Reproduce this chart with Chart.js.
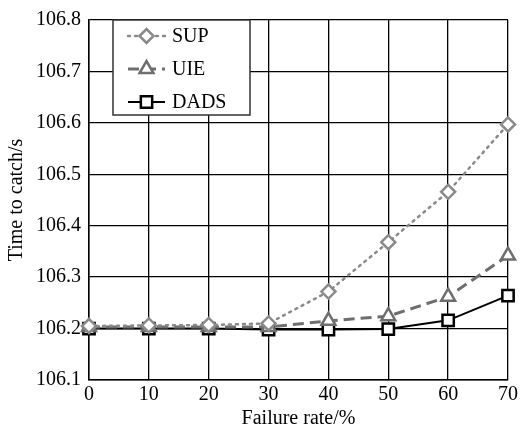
<!DOCTYPE html>
<html>
<head>
<meta charset="utf-8">
<script src="https://cdn.jsdelivr.net/npm/chart.js@4.4.0/dist/chart.umd.min.js"></script>
<style>
    html, body { margin: 0; padding: 0; background: #fff; }
</style>
</head>
<body>
<canvas id="catchChart" width="521" height="431"></canvas>
<script>
var failureRate = [0, 10, 20, 30, 40, 50, 60, 70];
var supTime = [106.205, 106.206, 106.207, 106.210, 106.272, 106.368, 106.466, 106.597];
var uieTime = [106.203, 106.203, 106.203, 106.203, 106.215, 106.224, 106.262, 106.342];
var dadsTime = [106.200, 106.200, 106.200, 106.198, 106.198, 106.199, 106.216, 106.264];
var yTicks = [106.1, 106.2, 106.3, 106.4, 106.5, 106.6, 106.7, 106.8];
var xTicks = [0, 10, 20, 30, 40, 50, 60, 70];

var serif = "'Liberation Serif', 'Times New Roman', serif";

function toPoints(values) {
    return failureRate.map(function (x, i) { return { x: x, y: values[i] }; });
}

// boxed legend in the upper left of the plot
var boxLegend = {
    id: 'boxLegend',
    afterDatasetsDraw: function (chart) {
        var ctx = chart.ctx;
        var left = 113, top = 20, w = 137, h = 95;
        ctx.save();
        ctx.fillStyle = '#fff';
        ctx.fillRect(left, top, w, h);
        ctx.strokeStyle = '#333';
        ctx.lineWidth = 1.5;
        ctx.strokeRect(left, top, w, h);

        chart.data.datasets.forEach(function (ds, i) {
            var y = 36 + i * 33;
            ctx.save();
            ctx.strokeStyle = ds.borderColor;
            ctx.lineWidth = ds.borderWidth;
            ctx.lineCap = ds.borderCapStyle || 'butt';
            ctx.setLineDash(ds.borderDash || []);
            ctx.beginPath();
            ctx.moveTo(128, y);
            ctx.lineTo(165, y);
            ctx.stroke();
            ctx.setLineDash([]);
            ctx.fillStyle = '#fff';
            ctx.strokeStyle = ds.pointBorderColor;
            ctx.lineWidth = ds.pointBorderWidth;
            Chart.helpers.drawPoint(ctx, {
                pointStyle: ds.pointStyle,
                radius: ds.pointRadius,
                borderWidth: ds.pointBorderWidth,
                rotation: 0
            }, 146.5, y);
            ctx.restore();

            ctx.fillStyle = '#000';
            ctx.font = '20px ' + serif;
            ctx.textBaseline = 'middle';
            ctx.textAlign = 'left';
            ctx.fillText(ds.label, 172, y + 1);
        });
        ctx.restore();
    }
};

var ctx = document.getElementById('catchChart');
var catchChart = new Chart(ctx, {
    type: 'line',
    data: {
        datasets: [{
            label: 'SUP',
            data: toPoints(supTime),
            borderColor: '#8a8a8a',
            borderWidth: 2.5,
            borderDash: [2, 5],
            borderCapStyle: 'round',
            pointStyle: 'rectRot',
            pointRadius: 7,
            pointBorderWidth: 2.5,
            pointBorderColor: '#8a8a8a',
            pointBackgroundColor: '#fff',
            clip: false
        }, {
            label: 'UIE',
            data: toPoints(uieTime),
            borderColor: '#6e6e6e',
            borderWidth: 3,
            borderDash: [11, 6],
            pointStyle: 'triangle',
            pointRadius: 8,
            pointBorderWidth: 2.5,
            pointBorderColor: '#6e6e6e',
            pointBackgroundColor: '#fff',
            clip: false
        }, {
            label: 'DADS',
            data: toPoints(dadsTime),
            borderColor: '#000',
            borderWidth: 2,
            pointStyle: 'rect',
            pointRadius: 8,
            pointBorderWidth: 2.5,
            pointBorderColor: '#000',
            pointBackgroundColor: '#fff',
            clip: false
        }]
    },
    options: {
        responsive: false,
        animation: false,
        layout: { padding: { top: 15, right: 10, left: 0, bottom: 0 } },
        plugins: {
            legend: { display: false },
            tooltip: { enabled: false }
        },
        scales: {
            x: {
                type: 'linear',
                min: 0,
                max: 70,
                afterBuildTicks: function (axis) {
                    axis.ticks = xTicks.map(function (v) { return { value: v }; });
                },
                afterFit: function (scale) { scale.height = 51; },
                grid: { color: '#000', lineWidth: 1.3, drawTicks: false },
                border: { color: '#000', width: 1.5 },
                ticks: {
                    color: '#000',
                    padding: 3,
                    maxRotation: 0,
                    font: { family: serif, size: 20 }
                },
                title: {
                    display: true,
                    text: 'Failure rate/%',
                    color: '#000',
                    padding: { top: 0, bottom: 0 },
                    font: { family: serif, size: 20 }
                }
            },
            y: {
                min: 106.1,
                max: 106.8,
                afterBuildTicks: function (axis) {
                    axis.ticks = yTicks.map(function (v) { return { value: v }; });
                },
                afterFit: function (scale) { scale.width = 89; },
                grid: { color: '#000', lineWidth: 1.3, drawTicks: false },
                border: { color: '#000', width: 1.5 },
                ticks: {
                    color: '#000',
                    padding: 8,
                    font: { family: serif, size: 20 },
                    callback: function (v) { return Number(v).toFixed(1); }
                },
                title: {
                    display: true,
                    text: 'Time to catch/s',
                    color: '#000',
                    padding: { top: 5, bottom: 0 },
                    font: { family: serif, size: 20 }
                }
            }
        }
    },
    plugins: [boxLegend]
});
</script>
</body>
</html>
